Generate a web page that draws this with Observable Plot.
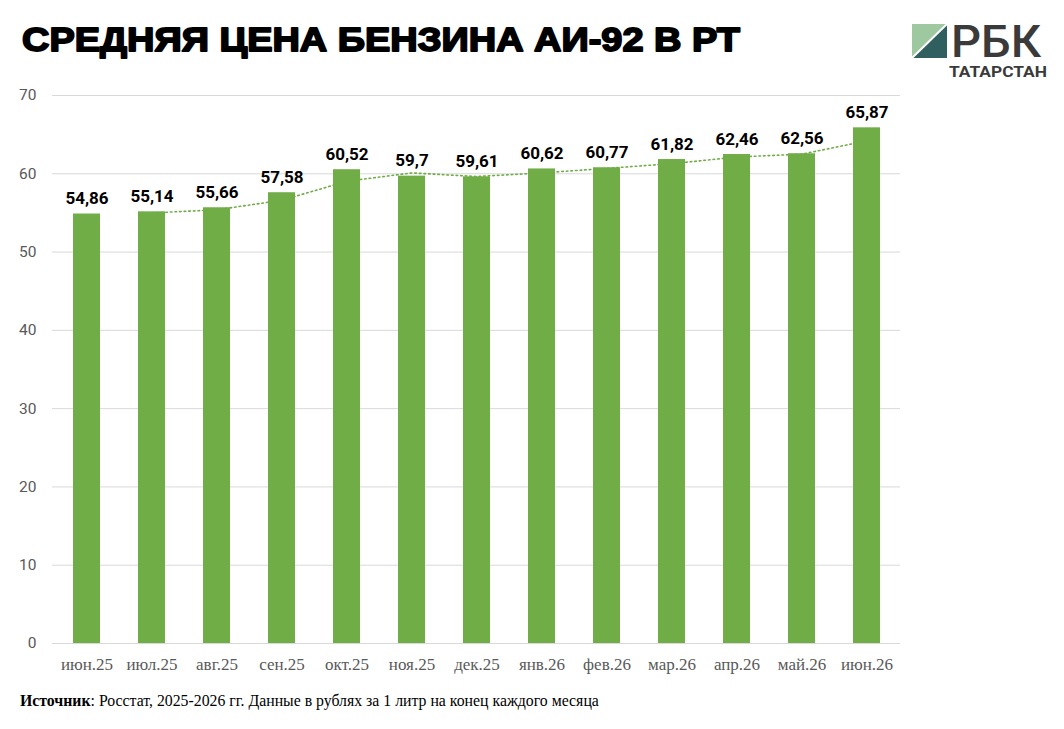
<!DOCTYPE html>
<html><head><meta charset="utf-8">
<script src="https://cdn.jsdelivr.net/npm/d3@7"></script>
<script src="https://cdn.jsdelivr.net/npm/@observablehq/plot@0.6"></script>
<style>
body{margin:0;background:#fff;width:1064px;height:729px;position:relative;overflow:hidden;}
#title{position:absolute;left:0;top:0;}
#chart{position:absolute;left:0;top:80px;}
#caption{position:absolute;left:20px;top:692px;font-family:"Liberation Serif","Times New Roman",serif;font-size:15.8px;color:#000;white-space:nowrap;}
#logo{position:absolute;left:912px;top:10px;}
</style></head><body>
<svg id="title" width="760" height="70">
  <text x="22" y="51" font-family="'Liberation Sans',Arial,sans-serif" font-weight="700" font-size="34" fill="#000" stroke="#000" stroke-width="1.8" stroke-linejoin="round" textLength="718" lengthAdjust="spacingAndGlyphs">СРЕДНЯЯ ЦЕНА БЕНЗИНА АИ-92 В РТ</text>
</svg>
<svg id="logo" width="145" height="75">
  <polygon points="0,14 35,14 0,48" fill="#9ec8a0"/>
  <polygon points="35,14 35,48 0,48" fill="#2f5f5e"/>
  <line x1="0" y1="48" x2="35" y2="14" stroke="#fff" stroke-width="2"/>
  <text x="39" y="47" font-family="Roboto,'Liberation Sans',sans-serif" font-size="44" font-weight="500" fill="#3a3a3a" textLength="90" lengthAdjust="spacingAndGlyphs">РБК</text>
  <text x="37" y="67" font-family="Roboto,'Liberation Sans',sans-serif" font-size="14.5" font-weight="700" fill="#3a3a3a" textLength="98" lengthAdjust="spacingAndGlyphs">ТАТАРСТАН</text>
</svg>
<div id="chart"></div>
<div id="caption"><b>Источник</b>: Росстат, 2025-2026 гг. Данные в рублях за 1 литр на конец каждого месяца</div>
<script>
const months = ["июн.25","июл.25","авг.25","сен.25","окт.25","ноя.25","дек.25","янв.26","фев.26","мар.26","апр.26","май.26","июн.26"];
const prices = [54.86,55.14,55.66,57.58,60.52,59.7,59.61,60.62,60.77,61.82,62.46,62.56,65.87];
const labels = ["54,86","55,14","55,66","57,58","60,52","59,7","59,61","60,62","60,77","61,82","62,46","62,56","65,87"];
const yTicks = [0,10,20,30,40,50,60,70];

const data = months.map((m,i)=>({month:m, price:prices[i], label:labels[i]}));
const green = "#70ad47";

const chart = Plot.plot({
  width: 1064,
  height: 600,
  marginTop: 15,
  marginBottom: 37,
  marginLeft: 52,
  marginRight: 164,
  x: {domain: months, paddingInner: 0.59, paddingOuter: 0.295, label: null, tickSize: 0, tickPadding: 14},
  y: {domain: [0,70], ticks: yTicks, label: null, tickSize: 0, tickPadding: 16, grid: false},
  style: {fontFamily: "Roboto, sans-serif", fontSize: "15.5px", color: "#595959"},
  marks: [
    Plot.ruleY(yTicks, {stroke: "#d9d9d9", strokeWidth: 1}),
    Plot.lineY(data, Plot.windowY({k: 2, anchor: "end", strict: true}, {x: "month", y: "price", stroke: green, strokeWidth: 1.6, strokeDasharray: "1.6,3", curve: "linear"})),
    Plot.barY(data, {x: "month", y: "price", fill: green}),
    Plot.text(data, {x: "month", y: "price", text: "label", lineAnchor: "bottom", dy: -10, fontFamily: "Roboto, sans-serif", fontWeight: 700, fontSize: 17, fill: "#000"})
  ]
});
const xl = chart.querySelector('[aria-label="x-axis tick label"]');
if (xl){xl.setAttribute("font-family",'"Liberation Serif","Times New Roman",serif');xl.setAttribute("font-size","17");xl.style.fontFamily='"Liberation Serif","Times New Roman",serif';xl.style.fontSize='17px';}
document.getElementById("chart").appendChild(chart);
</script>
</body></html>
